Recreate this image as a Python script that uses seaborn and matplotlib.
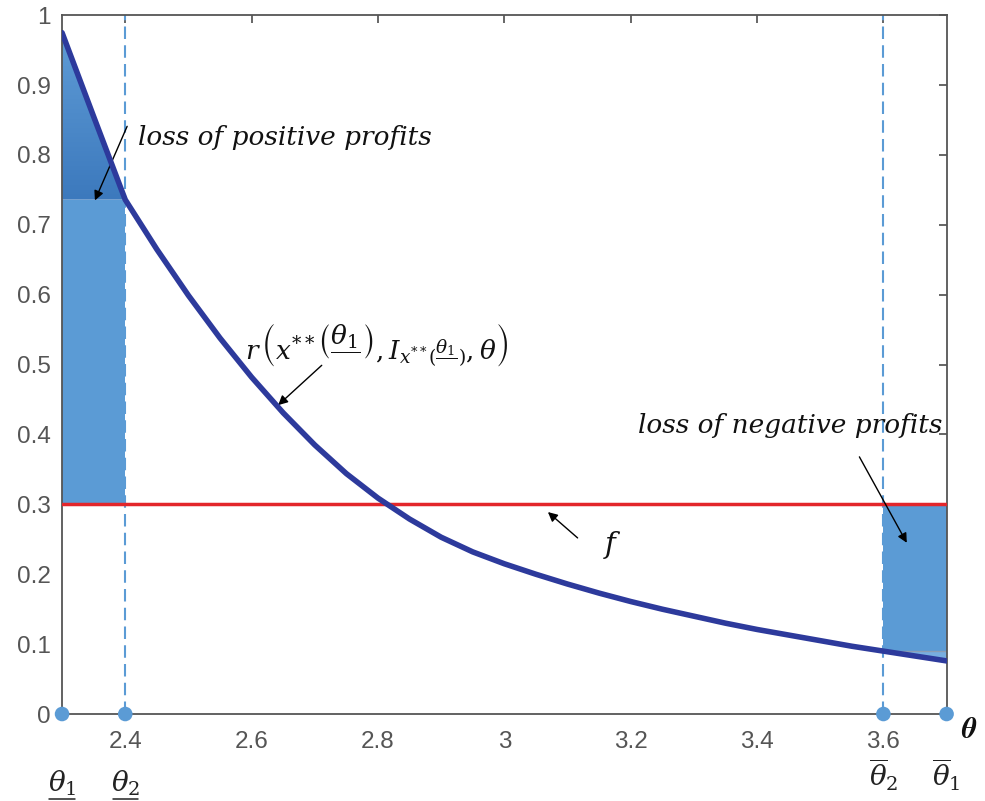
import io
import numpy as np
import pandas as pd
import matplotlib
matplotlib.use("Agg")
import matplotlib.pyplot as plt
from matplotlib import mathtext
import seaborn as sns

# curve r(x**(theta_1), I, theta)
theta = [2.30, 2.35, 2.40, 2.45, 2.50, 2.55, 2.60, 2.65, 2.70, 2.75,
         2.80, 2.85, 2.90, 2.95, 3.00, 3.05, 3.10, 3.15, 3.20, 3.25,
         3.30, 3.35, 3.40, 3.45, 3.50, 3.55, 3.60, 3.65, 3.70]
r_vals = [0.975, 0.855, 0.736, 0.665, 0.599, 0.538, 0.482, 0.431, 0.385, 0.344,
          0.309, 0.279, 0.253, 0.232, 0.215, 0.200, 0.186, 0.173, 0.161, 0.150,
          0.140, 0.130, 0.121, 0.113, 0.105, 0.097, 0.090, 0.083, 0.076]
f_level = 0.3
theta_low = [2.3, 2.4]     # underline theta_1, theta_2
theta_high = [3.6, 3.7]    # overline theta_2, theta_1
x_ticks = [2.4, 2.6, 2.8, 3.0, 3.2, 3.4, 3.6]
x_tick_labels = ["2.4", "2.6", "2.8", "3", "3.2", "3.4", "3.6"]
y_ticks = [0, 0.1, 0.2, 0.3, 0.4, 0.5, 0.6, 0.7, 0.8, 0.9, 1.0]
y_tick_labels = ["0", "0.1", "0.2", "0.3", "0.4", "0.5", "0.6", "0.7", "0.8", "0.9", "1"]

sns.set_theme(style="white")
plt.rcParams['font.family'] = ['Liberation Sans', 'DejaVu Sans']
plt.rcParams['mathtext.fontset'] = 'stix'


def mathtext_ok(s):
    try:
        mathtext.math_to_image(s, io.BytesIO(), format='png')
        return True
    except Exception:
        return False


df = pd.DataFrame({'theta': theta, 'r': r_vals})

fig = plt.figure(figsize=(9.85, 8.01), dpi=100)
ax = fig.add_axes([0.063, 0.1086, 0.898, 0.8724])

blue_fill = '#5b9bd5'

# loss of positive profits (left): rectangle + shaded triangle above it
left = df[df.theta <= theta_low[1] + 1e-9]
r_cut_left = left.r.iloc[-1]
ax.fill_between(left.theta, f_level, r_cut_left, color=blue_fill, lw=0)
tri = ax.fill_between(left.theta, r_cut_left, left.r, color='none', lw=0)
grad = np.linspace(0, 1, 100).reshape(-1, 1)
img = ax.imshow(grad, cmap=matplotlib.colors.LinearSegmentedColormap.from_list(
    'tri', ['#3c79bd', '#5f9cd6']), aspect='auto', origin='lower',
    extent=[left.theta.min(), left.theta.max(), r_cut_left, left.r.max()], zorder=1)
img.set_clip_path(tri.get_paths()[0], transform=ax.transData)

# loss of negative profits (right)
right = df[df.theta >= theta_high[0] - 1e-9]
r_cut_right = right.r.iloc[0]
ax.fill_between(right.theta, r_cut_right, f_level, color=blue_fill, lw=0)
ax.fill_between(right.theta, right.r, r_cut_right, color='#78aee0', lw=0)
ax.plot(right.theta.iloc[[0, -1]], [r_cut_right, r_cut_right], color='#8c9db3', lw=1)

# f level and the dashed cut-offs
ax.axhline(f_level, color='#e3262b', lw=2.5, zorder=3)
for t in [theta_low[1], theta_high[0]]:
    ax.axvline(t, color=blue_fill, ls=(0, (6, 3)), lw=1.5, zorder=2)

sns.lineplot(data=df, x='theta', y='r', color='#2d3a9c', lw=4, ax=ax, zorder=4)

sns.scatterplot(x=theta_low + theta_high, y=[0] * 4, color=blue_fill, s=110,
                edgecolor='none', ax=ax, clip_on=False, zorder=6)

ax.set_xlim(theta[0], theta[-1])
ax.set_ylim(0, 1)
ax.set_xticks(x_ticks)
ax.set_xticklabels(x_tick_labels)
ax.set_yticks(y_ticks)
ax.set_yticklabels(y_tick_labels)
ax.set_xlabel("")
ax.set_ylabel("")
ax.tick_params(direction='in', length=6, width=1.2, top=True, right=True,
               labelsize=17.5, colors='#4d4d4d', labelcolor='#555555')
ax.tick_params(axis='x', pad=12)
ax.tick_params(axis='y', pad=8)
for sp in ax.spines.values():
    sp.set_color('#555555')
    sp.set_linewidth(1.3)

# theta labels under the axis
xt = ax.get_xaxis_transform()
for t, lab in zip(theta_low, [r'$\theta_1$', r'$\theta_2$']):
    ax.text(t, -0.111, lab, transform=xt, ha='center', va='baseline', fontsize=20,
            color='#222222', math_fontfamily='dejavuserif')
    ax.plot([t - 0.02, t + 0.02], [-0.121, -0.121], transform=xt, color='#222222',
            lw=1.1, clip_on=False)
for t, lab in zip(theta_high, [r'$\overline{\theta}_2$', r'$\overline{\theta}_1$']):
    ax.text(t, -0.104, lab, transform=xt, ha='center', va='baseline', fontsize=20,
            color='#222222', math_fontfamily='dejavuserif')
ax.text(3.734, -0.023, 'θ', transform=xt, ha='center', va='center', fontsize=21,
        family='STIXGeneral', weight='bold', style='italic', color='#111111')

note = dict(fontsize=19, family='DejaVu Serif', style='italic', color='#111111',
            va='center', ha='left')
arrow = dict(arrowstyle='-|>', color='black', lw=1.0, mutation_scale=14, shrinkA=0, shrinkB=0)

ax.text(2.42, 0.825, 'loss of positive profits', **note)
ax.annotate('', xy=(2.352, 0.735), xytext=(2.403, 0.841), arrowprops=arrow)

r_label = (r'$r\,\left(x^{**}\left(\genfrac{}{}{0.6}{0}{\theta_1}{\,}\right),'
           r'I_{x^{**}(\genfrac{}{}{0.6}{0}{\theta_1}{\,})},\theta\right)$')
if not mathtext_ok(r_label):
    r_label = r'$r\,\left(x^{**}(\theta_1),I_{x^{**}(\theta_1)},\theta\right)$'
ax.text(2.59, 0.528, r_label, fontsize=19, va='center', ha='left', color='#111111',
        math_fontfamily='dejavuserif')
ax.annotate('', xy=(2.642, 0.442), xytext=(2.711, 0.499), arrowprops=arrow)

ax.text(3.156, 0.242, r'$f$', fontsize=21, va='center', ha='left', color='#111111',
        math_fontfamily='dejavuserif')
ax.annotate('', xy=(3.069, 0.289), xytext=(3.116, 0.252), arrowprops=arrow)

ax.text(3.211, 0.413, 'loss of negative profits', **note)
ax.annotate('', xy=(3.637, 0.245), xytext=(3.562, 0.368), arrowprops=arrow)

fig.savefig('out.png', dpi=100, facecolor='white')
plt.close(fig)
